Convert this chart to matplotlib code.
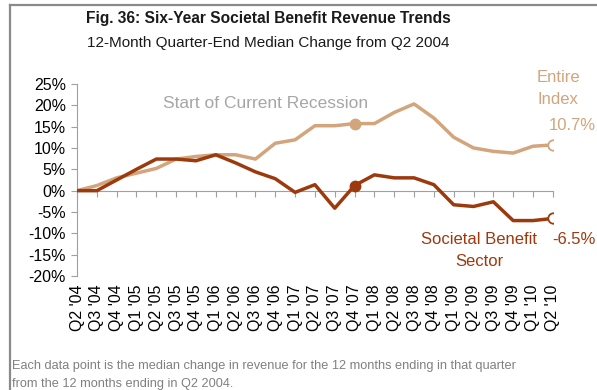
import matplotlib.pyplot as plt
from matplotlib.lines import Line2D
import numpy as np

plt.rcParams['font.family'] = ['Liberation Sans', 'DejaVu Sans']

quarters = ["Q2 '04", "Q3 '04", "Q4 '04", "Q1 '05", "Q2 '05", "Q3 '05", "Q4 '05",
            "Q1 '06", "Q2 '06", "Q3 '06", "Q4 '06", "Q1 '07", "Q2 '07", "Q3 '07",
            "Q4 '07", "Q1 '08", "Q2 '08", "Q3 '08", "Q4 '08", "Q1 '09", "Q2 '09",
            "Q3 '09", "Q4 '09", "Q1 '10", "Q2 '10"]

# median 12-month change vs Q2 2004, in percent
entire_index = [0.0, 1.2, 3.0, 4.1, 5.2, 7.4, 8.0, 8.4, 8.4, 7.4, 11.1, 11.9, 15.2,
                15.2, 15.7, 15.7, 18.3, 20.3, 17.0, 12.5, 10.0, 9.2, 8.8, 10.4, 10.7]
societal_benefit = [0.0, 0.0, 2.5, 5.0, 7.4, 7.4, 7.0, 8.4, 6.5, 4.4, 2.8, -0.4, 1.4,
                    -4.1, 1.2, 3.7, 3.0, 3.0, 1.4, -3.3, -3.7, -2.6, -7.0, -7.0, -6.5]

recession_start = "Q4 '07"

light = '#D2A57C'
dark = '#9C3A0E'

x = np.arange(len(quarters))
ri = quarters.index(recession_start)

fig = plt.figure(figsize=(5.97, 3.9), dpi=100)
ax = fig.add_axes([0.129, 0.292, 0.797, 0.493])

ax.plot(x, entire_index, color=light, lw=2.5, solid_joinstyle='round', zorder=3)
ax.plot(x, societal_benefit, color=dark, lw=2.5, solid_joinstyle='round', zorder=3)

# recession start markers
ax.plot(x[ri], entire_index[ri], 'o', color=light, ms=7.5, zorder=4)
ax.plot(x[ri], societal_benefit[ri], 'o', color=dark, ms=7.5, zorder=4)

# latest quarter markers
ax.plot(x[-1], entire_index[-1], 'o', mfc='white', mec=light, mew=1.3, ms=7.5, zorder=4)
ax.plot(x[-1], societal_benefit[-1], 'o', mfc='white', mec=dark, mew=1.3, ms=7.5, zorder=4)

ax.set_xlim(x[0], x[-1])
ax.set_ylim(-20, 25)
ax.set_yticks(np.arange(-20, 26, 5))
ax.set_yticklabels(['%d%%' % v for v in np.arange(-20, 26, 5)], fontsize=11.5)

ax.set_xticks(x)
ax.set_xticklabels(quarters, rotation=90, fontsize=11.5)
ax.tick_params(axis='x', length=0, pad=6)
ax.tick_params(axis='y', length=4, color='#A0A0A0', width=0.8, pad=4)

for s in ['top', 'right', 'bottom']:
    ax.spines[s].set_visible(False)
ax.spines['left'].set_color('#A0A0A0')
ax.spines['left'].set_linewidth(0.8)

# zero line with category ticks
zero_ax = ax.secondary_xaxis(20 / 45.0)
zero_ax.set_xticks(x)
zero_ax.set_xticklabels([])
zero_ax.tick_params(length=4, color='#A0A0A0', width=0.8, direction='out')
zero_ax.spines['bottom'].set_color('#A0A0A0')
zero_ax.spines['bottom'].set_linewidth(0.8)

ax.text(0.18, 0.9, 'Start of Current Recession', transform=ax.transAxes,
        color='#A6A6A6', fontsize=12.5, va='center', ha='left')

fig.text(558 / 597., 1 - 78 / 390., 'Entire', color=light, fontsize=12, ha='center', va='center')
fig.text(558 / 597., 1 - 100 / 390., 'Index', color=light, fontsize=12, ha='center', va='center')
fig.text(572 / 597., 1 - 125 / 390., '%.1f%%' % entire_index[-1], color=light,
         fontsize=12, ha='center', va='center')
fig.text(479 / 597., 1 - 240 / 390., 'Societal Benefit', color=dark, fontsize=12,
         ha='center', va='center')
fig.text(479 / 597., 1 - 262 / 390., 'Sector', color=dark, fontsize=12,
         ha='center', va='center')
fig.text(574 / 597., 1 - 240 / 390., '%.1f%%' % societal_benefit[-1], color=dark,
         fontsize=12, ha='center', va='center')

fig.text(268 / 597., 1 - 19 / 390., 'Fig. 36: Six-Year Societal Benefit Revenue Trends',
         fontsize=11.2, fontweight='bold', ha='center', va='center', color='#1A1A1A')
fig.text(268 / 597., 1 - 43 / 390., '12-Month Quarter-End Median Change from Q2 2004',
         fontsize=11, ha='center', va='center', color='#1A1A1A')

fig.text(12 / 597., 1 - 366 / 390.,
         'Each data point is the median change in revenue for the 12 months ending in that quarter',
         fontsize=9.2, color='#808080', ha='left', va='center')
fig.text(12 / 597., 1 - 384 / 390., 'from the 12 months ending in Q2 2004.',
         fontsize=9.2, color='#808080', ha='left', va='center')

# frame lines along top and left edge
fig.add_artist(Line2D([10 / 597., 1.0], [1 - 5 / 390., 1 - 5 / 390.], color='#8A8A8A', lw=1.6))
fig.add_artist(Line2D([10 / 597., 10 / 597.], [0.0, 1 - 5 / 390.], color='#8A8A8A', lw=1.6))

fig.savefig('out.png', dpi=100)
